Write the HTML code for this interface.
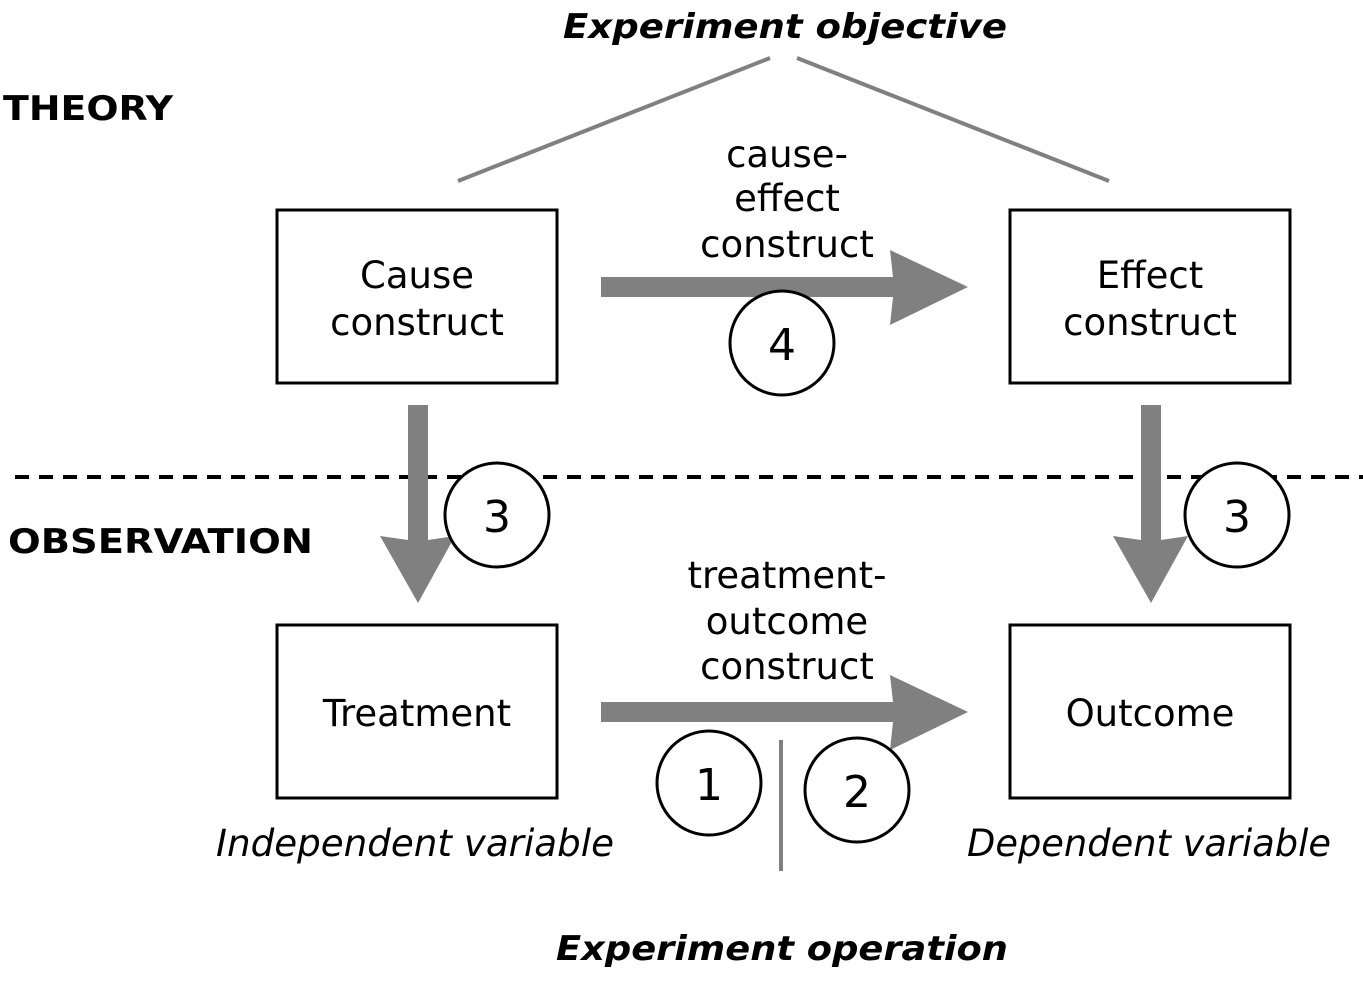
<!DOCTYPE html>
<html><head><meta charset="utf-8"><style>
html,body{margin:0;padding:0;background:#fff;}
svg text{font-family:"DejaVu Sans","Liberation Sans",sans-serif;}
</style></head><body>
<svg width="1363" height="981" viewBox="0 0 1363 981" xmlns="http://www.w3.org/2000/svg">
<rect width="1363" height="981" fill="#fff"/>
<text x="785" y="38" font-size="34" font-weight="bold" font-style="italic" text-anchor="middle" textLength="444" lengthAdjust="spacingAndGlyphs">Experiment objective</text>
<text x="3" y="120" font-size="34" font-weight="bold" textLength="170" lengthAdjust="spacingAndGlyphs">THEORY</text>
<text x="8" y="553" font-size="34" font-weight="bold" textLength="305" lengthAdjust="spacingAndGlyphs">OBSERVATION</text>
<line x1="770" y1="58" x2="458" y2="181" stroke="#808080" stroke-width="4"/>
<line x1="797" y1="58" x2="1109" y2="181" stroke="#808080" stroke-width="4"/>
<g fill="none" stroke="#000" stroke-width="3">
<rect x="277" y="210" width="280" height="173"/>
<rect x="1010" y="210" width="280" height="173"/>
<rect x="277" y="625" width="280" height="173"/>
<rect x="1010" y="625" width="280" height="173"/>
</g>
<line x1="15" y1="477" x2="1363" y2="477" stroke="#000" stroke-width="4" stroke-dasharray="14,10"/>
<g fill="#808080">
<polygon points="601,277 893,277 890,250 968,287 890,325 893,297 601,297"/>
<polygon points="601,702 893,702 890,675 968,712 890,750 893,722 601,722"/>
<polygon points="408,405 428,405 428,540 455,536 418,603 380,536 408,540"/>
<polygon points="1141,405 1161,405 1161,540 1188,536 1151,603 1113,536 1141,540"/>
</g>
<line x1="781" y1="740" x2="781" y2="871" stroke="#808080" stroke-width="4"/>
<g fill="#fff" stroke="#000" stroke-width="3">
<circle cx="782" cy="343" r="52"/>
<circle cx="497" cy="515" r="52"/>
<circle cx="1237" cy="515" r="52"/>
<circle cx="709" cy="783" r="52"/>
<circle cx="857" cy="790" r="52"/>
</g>
<g font-size="44" text-anchor="middle">
<text x="782" y="360">4</text>
<text x="497" y="532">3</text>
<text x="1237" y="532">3</text>
<text x="709" y="800">1</text>
<text x="857" y="807">2</text>
</g>
<g font-size="37" text-anchor="middle">
<text x="417" y="288">Cause</text>
<text x="417" y="335">construct</text>
<text x="1150" y="288">Effect</text>
<text x="1150" y="335">construct</text>
<text x="417" y="726">Treatment</text>
<text x="1150" y="726">Outcome</text>
<text x="787" y="167">cause-</text>
<text x="787" y="211">effect</text>
<text x="787" y="257">construct</text>
<text x="787" y="588">treatment-</text>
<text x="787" y="634">outcome</text>
<text x="787" y="679">construct</text>
<text x="415" y="856" font-style="italic" textLength="398" lengthAdjust="spacingAndGlyphs">Independent variable</text>
<text x="1149" y="856" font-style="italic" textLength="364" lengthAdjust="spacingAndGlyphs">Dependent variable</text>
</g>
<text x="782" y="960" font-size="34" font-weight="bold" font-style="italic" text-anchor="middle" textLength="452" lengthAdjust="spacingAndGlyphs">Experiment operation</text>
</svg>
</body></html>
